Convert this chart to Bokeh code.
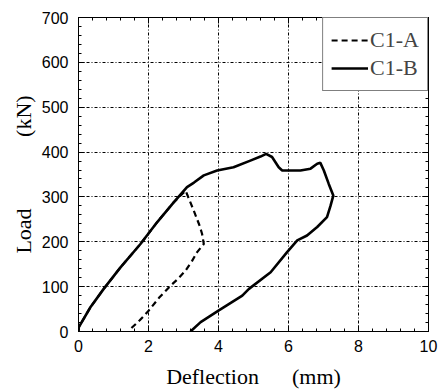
from bokeh.plotting import figure
from bokeh.models import LinearAxis, Range1d, Legend, LegendItem, FixedTicker, CustomJSTickFormatter
from bokeh.embed import file_html
from bokeh.resources import INLINE

# C1-A (dashed)
a_x = [0, 0.01, 0.34, 0.72, 1.2, 1.77, 2.25, 2.72, 3.06, 3.29, 3.45, 3.53, 3.58, 3.39, 3.25, 3.06, 2.85, 2.63, 2.3, 2.01, 1.75, 1.49]
a_y = [0, 10, 54, 95, 143, 195, 244, 288, 314, 270, 238, 218, 195, 177, 158, 136, 118, 102, 75, 47, 25, 6]
# C1-B (solid)
b_x = [0, 0.01, 0.34, 0.72, 1.2, 1.77, 2.25, 2.72, 3.1, 3.3, 3.58, 3.96, 4.43, 4.91, 5.2, 5.36, 5.53, 5.72, 5.82,
       6.34, 6.63, 6.82, 6.91, 7.01, 7.15, 7.28, 7.2, 7.1, 6.82, 6.53, 6.25, 5.96, 5.49, 4.87, 4.68, 4.01, 3.49, 3.2]
b_y = [0, 10, 54, 95, 143, 195, 244, 288, 322, 332, 348, 359, 366, 381, 390, 396, 389, 366, 359,
       359, 363, 374, 376, 359, 329, 303, 280, 255, 233, 214, 203, 177, 132, 95, 80, 47, 21, 0]

x_ticks = [0, 2, 4, 6, 8, 10]
y_ticks = [0, 100, 200, 300, 400, 500, 600, 700]
x_minor = [i * 0.4 for i in range(26)]
y_minor = [i * 20 for i in range(36)]

p = figure(width=438, height=392, output_backend="svg", toolbar_location=None,
           x_range=Range1d(0, 10), y_range=Range1d(0, 700),
           min_border_left=78, min_border_right=10, min_border_top=17, min_border_bottom=61)
p.background_fill_color = "white"
p.border_fill_color = "white"
p.outline_line_color = "black"
p.outline_line_width = 1

for ax in (p.xaxis[0], p.yaxis[0]):
    ax.major_tick_in = 6
    ax.major_tick_out = 0
    ax.minor_tick_in = 3
    ax.minor_tick_out = 0
    ax.axis_line_color = "black"
    ax.major_tick_line_color = "black"
    ax.minor_tick_line_color = "black"
    ax.major_label_text_font = "Liberation Sans"
    ax.major_label_text_font_size = "16px"
    ax.major_label_text_color = "black"
    ax.axis_label_text_font = "Liberation Serif"
    ax.axis_label_text_font_size = "22px"
    ax.axis_label_text_font_style = "normal"
    ax.axis_label_text_color = "black"

p.xaxis[0].ticker = FixedTicker(ticks=x_ticks, minor_ticks=x_minor)
p.yaxis[0].ticker = FixedTicker(ticks=y_ticks, minor_ticks=y_minor)
p.xaxis[0].axis_label = "Deflection" + "\u00a0" * 6 + "(mm)"
p.yaxis[0].axis_label = "Load" + "\u00a0" * 13 + "(kN)"
p.xaxis[0].major_label_standoff = 8
p.yaxis[0].major_label_standoff = 10
p.xaxis[0].axis_label_standoff = 9
p.yaxis[0].axis_label_standoff = 3

for loc in ("above", "right"):
    ax = LinearAxis(ticker=FixedTicker(ticks=x_ticks if loc == "above" else y_ticks,
                                       minor_ticks=x_minor if loc == "above" else y_minor),
                    formatter=CustomJSTickFormatter(code="return ''"))
    ax.major_tick_in = 6
    ax.major_tick_out = 0
    ax.minor_tick_in = 3
    ax.minor_tick_out = 0
    ax.major_label_standoff = 0
    ax.major_label_text_font_size = "1px"
    ax.axis_line_color = "black"
    p.add_layout(ax, loc)

for g in (p.xgrid[0], p.ygrid[0]):
    g.grid_line_color = "black"
    g.grid_line_dash = "3 2 1 2"
    g.grid_line_width = 1
p.xgrid[0].ticker = FixedTicker(ticks=x_ticks)
p.ygrid[0].ticker = FixedTicker(ticks=y_ticks)

rb = p.line(b_x, b_y, line_color="black", line_width=2.6)
ra = p.line(a_x, a_y, line_color="black", line_width=2.2, line_dash="6 4")

legend = Legend(items=[LegendItem(label="C1-A", renderers=[ra]), LegendItem(label="C1-B", renderers=[rb])],
                location="top_right", margin=0, padding=8, spacing=0,
                glyph_width=37, glyph_height=28, label_height=28, label_standoff=2,
                label_text_font="Liberation Serif", label_text_font_size="22px",
                border_line_color="black", border_line_width=1,
                background_fill_color="white", background_fill_alpha=1)
p.add_layout(legend)

open("out.html", "w").write(file_html(p, INLINE))
